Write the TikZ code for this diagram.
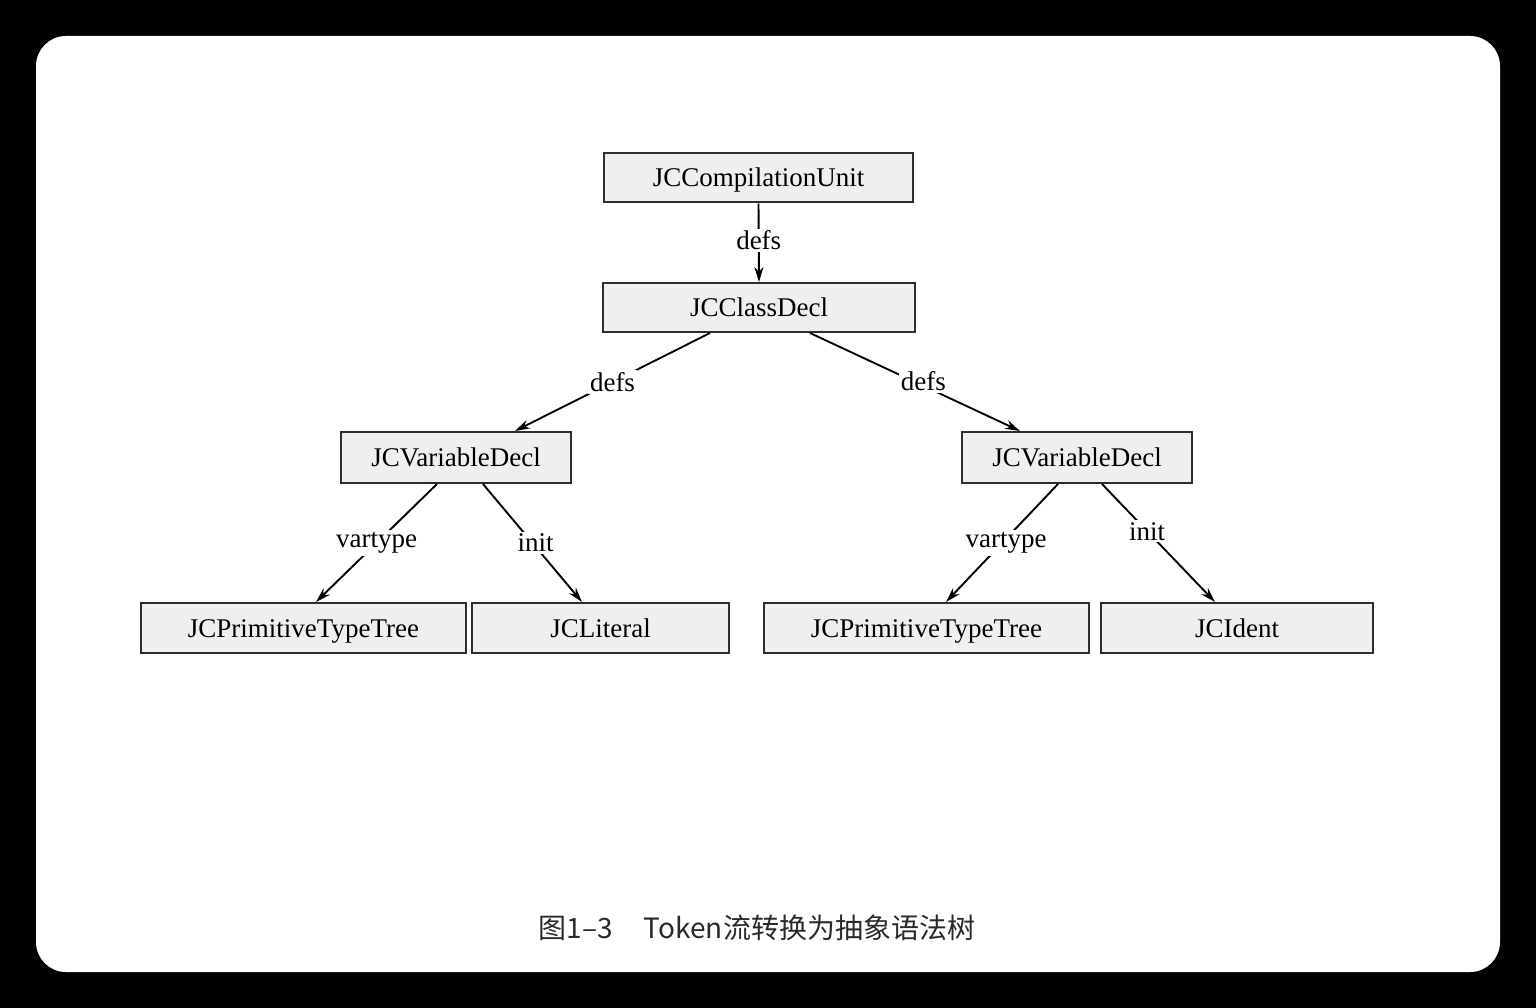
\documentclass[tikz,border=0pt]{standalone}
\usepackage{fontspec}
\setmainfont{Liberation Serif}
\newfontfamily\cjk{Noto Sans CJK SC}
\usetikzlibrary{arrows.meta}
\definecolor{boxfill}{HTML}{EFEFEF}
\definecolor{boxdraw}{HTML}{2E2E2E}
\definecolor{captxt}{HTML}{2A2A2A}
\tikzset{
  treebox/.style={draw=boxdraw, line width=2pt, fill=boxfill, minimum height=49pt, inner sep=0pt, text height=21pt, text depth=3pt, font=\fontsize{27}{30}\selectfont},
  edgearrow/.style={draw=black, line width=1.9pt, -{Stealth[length=15pt,width=9pt]}},
  elabel/.style={fill=white, inner sep=2pt, font=\fontsize{27}{30}\selectfont}
}
\begin{document}
\begin{tikzpicture}[x=1pt,y=-1pt]
\useasboundingbox (0,0) rectangle (1536,1008);
\fill[black] (0,0) rectangle (1536,1008);
\fill[white, rounded corners=30pt] (36,36) rectangle (1500,972);

\node[treebox, minimum width=309pt] (cu) at (758.5,178) {JCCompilationUnit};
\node[treebox, minimum width=312pt] (cd) at (759,307.5) {JCClassDecl};
\node[treebox, minimum width=230pt, minimum height=51pt] (vl) at (456,457.5) {JCVariableDecl};
\node[treebox, minimum width=230pt, minimum height=51pt] (vr) at (1077,457.5) {JCVariableDecl};
\node[treebox, minimum width=325pt, minimum height=50pt] (pl) at (303.5,628) {JCPrimitiveTypeTree};
\node[treebox, minimum width=257pt, minimum height=50pt] (li) at (600.5,628) {JCLiteral};
\node[treebox, minimum width=325pt, minimum height=50pt] (pr) at (926.5,628) {JCPrimitiveTypeTree};
\node[treebox, minimum width=272pt, minimum height=50pt] (id) at (1237,628) {JCIdent};

\draw[edgearrow] (cu.south) -- node[elabel, pos=0.47] {defs} (cd.north);
\draw[edgearrow] ([xshift=-49pt]cd.south) -- node[elabel, pos=0.5] {defs} ([xshift=59pt]vl.north);
\draw[edgearrow] ([xshift=51pt]cd.south) -- node[elabel, pos=0.54, yshift=5pt] {defs} ([xshift=-57pt]vr.north);
\draw[edgearrow] ([xshift=-19pt]vl.south) -- node[elabel, pos=0.5] {vartype} ([xshift=12.5pt]pl.north);
\draw[edgearrow] ([xshift=27pt]vl.south) -- node[elabel, pos=0.5, xshift=3pt] {init} ([xshift=-18.5pt]li.north);
\draw[edgearrow] ([xshift=-19pt]vr.south) -- node[elabel, pos=0.5, xshift=4pt] {vartype} ([xshift=19.5pt]pr.north);
\draw[edgearrow] ([xshift=25pt]vr.south) -- node[elabel, pos=0.4] {init} ([xshift=-22pt]id.north);

\node[text=captxt, font=\cjk\fontsize{28}{31}\selectfont, anchor=center] (cap) at (757,928) {图1–3\hspace{1.1em}Token流转换为抽象语法树};
\end{tikzpicture}
\end{document}
